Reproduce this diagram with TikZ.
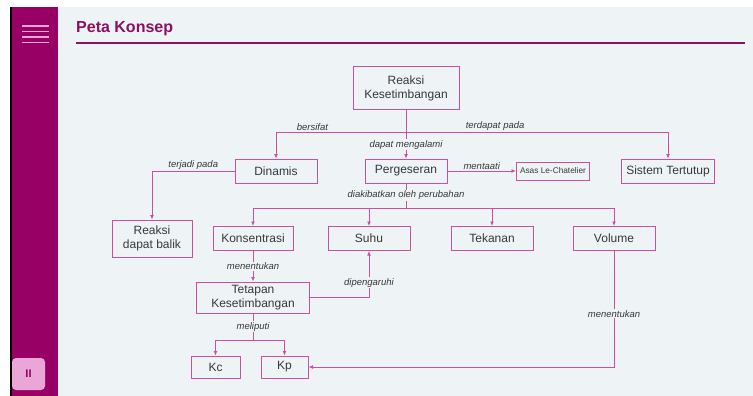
\documentclass[tikz,border=0pt]{standalone}
\usepackage{fontspec}
\setmainfont{Liberation Sans}
\usetikzlibrary{positioning,arrows.meta}

\definecolor{sidebar}{HTML}{990066}
\definecolor{garispink}{HTML}{CC4FA0}
\definecolor{latar}{HTML}{EEF3F5}
\definecolor{judul}{HTML}{8E1060}
\definecolor{teks}{HTML}{383838}
\definecolor{tombol}{HTML}{E9A6D6}

\tikzset{
  kotak/.style={draw=garispink, line width=1pt, fill=latar, text=teks, align=center,
    inner sep=0pt, minimum height=24pt, font=\fontsize{12}{13.5}\selectfont},
  ket/.style={text=teks, inner sep=1pt, font=\fontsize{9.5}{11}\selectfont\itshape},
  ketisi/.style={ket, fill=latar},
  garis/.style={draw=garispink, line width=0.9pt},
  panah/.style={garis, -{Latex[length=4.5pt,width=4pt]}},
}

\begin{document}
\begin{tikzpicture}[x=1pt,y=-1pt]
    % Latar dan bilah samping
    \fill[white] (0,0) rectangle (753,396);
    \fill[latar] (10,7) rectangle (753,396);
    \fill[black] (10,7) rectangle (12,396);
    \fill[sidebar] (12,7) rectangle (58,396);
    \foreach \y in {26,31.5,37,42.5} {
        \draw[tombol, line width=1.8pt] (22,\y) -- (49,\y);
    }
    \node[fill=tombol, rounded corners=4pt, minimum width=33pt, minimum height=32pt,
          text=sidebar, font=\bfseries\fontsize{11}{12}\selectfont] (jeda) at (28.5,374) {II};
    % Judul
    \node[anchor=base west, inner sep=0pt, text=judul, font=\bfseries\fontsize{16}{18}\selectfont]
        (judul) at (76,33) {Peta Konsep};
    \draw[judul, line width=2.5pt] (76,43) -- (745,43);

    % Kotak konsep
    \node[kotak, minimum width=106pt, minimum height=43pt] (reaksi) at (406,88.5) {Reaksi\\Kesetimbangan};
    \node[kotak, minimum width=82pt] (dinamis)    at (276,171) {Dinamis};
    \node[kotak, minimum width=82pt] (pergeseran) at (406,171) {Pergeseran};
    \node[kotak, minimum width=73pt, minimum height=18pt, font=\fontsize{8.3}{9}\selectfont]
        (asas) at (553,171) {Asas Le-Chatelier};
    \node[kotak, minimum width=93pt] (sistem)     at (668,171) {Sistem Tertutup};
    \node[kotak, minimum width=80pt, minimum height=37pt] (balik) at (152,238.5) {Reaksi\\dapat balik};
    \node[kotak, minimum width=80pt] (konsentrasi) at (253,238.5) {Konsentrasi};
    \node[kotak, minimum width=82pt] (suhu)        at (369,238.5) {Suhu};
    \node[kotak, minimum width=82pt] (tekanan)     at (492,238.5) {Tekanan};
    \node[kotak, minimum width=82pt] (volume)      at (614,238.5) {Volume};
    \node[kotak, minimum width=113pt, minimum height=31pt] (tetapan) at (253,297.5) {Tetapan\\Kesetimbangan};
    \node[kotak, minimum width=49pt, minimum height=22pt] (kc) at (215.5,367) {Kc};
    \node[kotak, minimum width=47pt, minimum height=22pt] (kp) at (284.5,367) {Kp};

    % Titik cabang
    \coordinate (cabang1) at (406,132);
    \coordinate (cabang2) at (406,208);
    \coordinate (cabang3) at (253,340);

    % Penghubung
    \draw[panah] (reaksi.south) -- (pergeseran.north) node[ketisi, pos=0.71] {dapat mengalami};
    \draw[panah] (cabang1) -| (dinamis.north) node[ket, above, pos=0.36] {bersifat};
    \draw[panah] (cabang1) -| (sistem.north) node[ket, above, pos=0.17] {terdapat pada};
    \draw[panah] (dinamis.west) -| (balik.north) node[ket, above, pos=0.25] {terjadi pada};
    \draw[panah] (pergeseran.east) -- (asas.west) node[ket, above, midway] {mentaati};
    \draw[garis] (pergeseran.south) -- (cabang2) node[ketisi, pos=0.48] {diakibatkan oleh perubahan};
    \foreach \n in {konsentrasi,suhu,tekanan,volume} {
        \draw[panah] (cabang2) -| (\n.north);
    }
    \draw[panah] (konsentrasi.south) -- (tetapan.north) node[ketisi, midway] {menentukan};
    \draw[panah] (tetapan.east) -| (suhu.south) node[ketisi, pos=0.66] {dipengaruhi};
    \draw[garis] (tetapan.south) -- (cabang3) node[ketisi, midway] {meliputi};
    \draw[panah] (cabang3) -| (kc.north);
    \draw[panah] (cabang3) -| (kp.north);
    \draw[panah] (volume.south) |- (kp.east) node[ketisi, pos=0.27] {menentukan};
\end{tikzpicture}
\end{document}
